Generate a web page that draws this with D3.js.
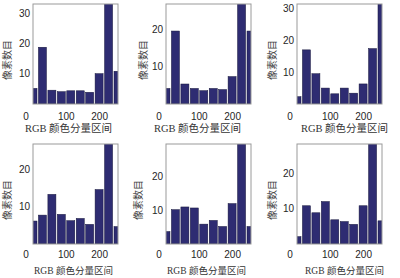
<!DOCTYPE html>
<html><head><meta charset="utf-8">
<script src="https://cdn.jsdelivr.net/npm/d3@7"></script>
<style>html,body{margin:0;padding:0;background:#fff;}svg{display:block;}</style>
</head><body>
<script>
// ---- data ----
const binCenters = [0, 28.3, 56.7, 85, 113.3, 141.7, 170, 198.3, 226.7, 255];
const counts1 = [5.2, 18.9, 4.6, 4.1, 4.4, 4.4, 3.9, 10.1, 34, 10.9];
const counts2 = [4.2, 19.7, 5.4, 4.2, 3.6, 4.2, 3.9, 7.4, 28, 19.7];
const counts3 = [2.3, 17.0, 9.5, 5.0, 3.2, 5.0, 3.4, 6.3, 17.4, 32];
const counts4 = [6.2, 7.8, 13.4, 8.0, 6.3, 6.9, 5.3, 14.7, 28, 4.7];
const counts5 = [3.7, 10.2, 11.0, 10.7, 5.9, 7.0, 5.2, 12.0, 30, 5.2];
const counts6 = [2.1, 10.9, 8.9, 12.1, 6.9, 6.4, 5.6, 10.9, 29, 6.6];
const yMaxes = [33.3, 27, 31.4, 27, 29.7, 28.5];
const yTicks1 = [10, 20, 30];
const yTicks2 = [10, 20];
const xTicks = [0, 100, 200];
const xDomain = [0, 255];
const xLabel = "RGB 颜色分量区间";
const yLabel = "像素数目";

// ---- layout ----
const W = 400, H = 278;
const colLeft = [33, 166, 297];
const axW = 85;
const rows = [
  {top: 4, bottom: 104, tickBase: 119.5, labelBase: 131.5, labelFs: 10.5},
  {top: 144, bottom: 244, tickBase: 257.5, labelBase: 274, labelFs: 9.5}
];
const labelShift = [-7, -11, 5, -2, -2, 5];
const yLabelGap = [26, 23, 25, 26, 28, 25];

const panels = [
  {vals: counts1, ymax: yMaxes[0], yt: yTicks1},
  {vals: counts2, ymax: yMaxes[1], yt: yTicks2},
  {vals: counts3, ymax: yMaxes[2], yt: yTicks1},
  {vals: counts4, ymax: yMaxes[3], yt: yTicks2},
  {vals: counts5, ymax: yMaxes[4], yt: yTicks2},
  {vals: counts6, ymax: yMaxes[5], yt: yTicks2}
];

const svg = d3.select("body").append("svg").attr("width", W).attr("height", H);
const defs = svg.append("defs");

panels.forEach((p, i) => {
  const r = rows[Math.floor(i / 3)];
  const left = colLeft[i % 3];
  const x = d3.scaleLinear().domain(xDomain).range([left, left + axW]);
  const y = d3.scaleLinear().domain([0, p.ymax]).range([r.bottom, r.top]);
  const step = x(binCenters[1]) - x(binCenters[0]);
  const bw = step * 0.85;

  defs.append("clipPath").attr("id", "clip" + i)
    .append("rect").attr("x", left).attr("y", r.top).attr("width", axW).attr("height", r.bottom - r.top);

  const g = svg.append("g");
  g.append("g").attr("clip-path", "url(#clip" + i + ")")
    .selectAll("rect").data(p.vals).join("rect")
    .attr("x", (d, k) => x(binCenters[k]) - bw / 2)
    .attr("width", bw)
    .attr("y", d => y(d))
    .attr("height", d => y(0) - y(d))
    .attr("fill", "#2e2c72")
    .attr("stroke", "#15153a")
    .attr("stroke-width", 0.5);

  // box
  g.append("rect").attr("x", left).attr("y", r.top).attr("width", axW).attr("height", r.bottom - r.top)
    .attr("fill", "none").attr("stroke", "#9a9a9a").attr("stroke-width", 1);

  // y tick labels
  g.selectAll("text.yt").data(p.yt).join("text")
    .attr("class", "yt")
    .attr("x", left - 3).attr("y", d => y(d)).attr("dy", "0.35em")
    .attr("text-anchor", "end")
    .attr("font-family", "Liberation Sans, Arial, sans-serif")
    .attr("font-size", 10).attr("fill", "#262626")
    .text(d => d);

  // x tick labels
  g.selectAll("text.xt").data(xTicks).join("text")
    .attr("class", "xt")
    .attr("x", d => x(d) + (d === 0 ? -7 : 0)).attr("y", r.tickBase)
    .attr("text-anchor", "middle")
    .attr("font-family", "Liberation Sans, Arial, sans-serif")
    .attr("font-size", 10).attr("fill", "#262626")
    .text(d => d);

  // x label
  g.append("text")
    .attr("x", left + axW / 2 + labelShift[i]).attr("y", r.labelBase)
    .attr("text-anchor", "middle")
    .attr("font-family", "Liberation Serif, 'Noto Sans CJK SC', serif")
    .attr("font-size", r.labelFs).attr("fill", "#333")
    .text(xLabel);

  // y label
  const cy = (r.top + r.bottom) / 2 + 6;
  const cx = left - yLabelGap[i];
  g.append("text")
    .attr("transform", `translate(${cx},${cy}) rotate(-90)`)
    .attr("text-anchor", "middle").attr("dy", "0.35em")
    .attr("font-family", "'Noto Sans CJK SC', sans-serif")
    .attr("font-size", 10).attr("fill", "#444")
    .text(yLabel);
});
</script>
</body></html>
